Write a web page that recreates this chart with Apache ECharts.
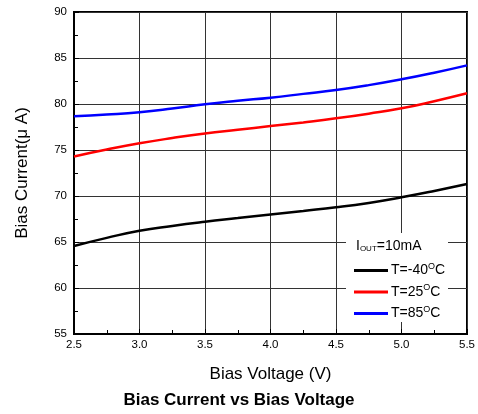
<!DOCTYPE html>
<html><head><meta charset="utf-8">
<script src="https://cdn.jsdelivr.net/npm/echarts@6/dist/echarts.min.js"></script>
<style>html,body{margin:0;padding:0;background:#fff}#c{width:478px;height:414px}</style>
</head><body><div id="c"></div>
<script>
const voltages = [2.5, 2.75, 3.0, 3.25, 3.5, 3.75, 4.0, 4.25, 4.5, 4.75, 5.0, 5.25, 5.5];
const tMinus40 = [64.57, 65.45, 66.23, 66.75, 67.2, 67.6, 68.0, 68.38, 68.77, 69.25, 69.86, 70.55, 71.3];
const t25 = [74.3, 75.05, 75.73, 76.3, 76.8, 77.2, 77.6, 78.0, 78.44, 78.95, 79.53, 80.3, 81.16];
const t85 = [78.66, 78.85, 79.1, 79.5, 79.97, 80.35, 80.69, 81.1, 81.52, 82.05, 82.68, 83.4, 84.2];
const seriesNames = ['T=-40', 'T=25', 'T=85'];
const seriesColors = ['#000000', '#ff0000', '#0000ff'];
const xTicks = ['2.5', '3.0', '3.5', '4.0', '4.5', '5.0', '5.5'];

const font = '"Liberation Sans", Arial, sans-serif';
const pair = (arr) => voltages.map((v, i) => [v, arr[i]]);
const allData = [tMinus40, t25, t85];

const chart = echarts.init(document.getElementById('c'), null, {renderer: 'canvas'});
chart.setOption({
  backgroundColor: '#fff',
  animation: false,
  textStyle: {fontFamily: font},
  title: {
    text: 'Bias Current vs Bias Voltage',
    left: 'center', top: 387,
    textStyle: {fontFamily: font, fontWeight: 'bold', fontSize: 17, color: '#000'}
  },
  grid: {left: 74, right: 11, top: 12, bottom: 80, show: true, borderColor: '#000', borderWidth: 2, backgroundColor: 'transparent'},
  xAxis: {
    type: 'value', min: 2.5, max: 5.5, interval: 0.5,
    name: 'Bias Voltage (V)', nameLocation: 'middle', nameGap: 32,
    nameTextStyle: {fontFamily: font, fontSize: 17, color: '#000'},
    axisLine: {show: true, lineStyle: {color: '#000', width: 2}},
    axisTick: {show: true, inside: true, length: 5, lineStyle: {color: '#000'}},
    minorTick: {show: true, splitNumber: 2, length: 4, lineStyle: {color: '#000'}},
    splitLine: {show: true, lineStyle: {color: '#333', width: 1}},
    axisLabel: {fontFamily: font, fontSize: 11.5, color: '#000', margin: 5, formatter: (v) => xTicks[Math.round((v - 2.5) / 0.5)]}
  },
  yAxis: {
    type: 'value', min: 55, max: 90, interval: 5,
    name: 'Bias Current(\u03bc A)', nameLocation: 'middle', nameGap: 43,
    nameTextStyle: {fontFamily: font, fontSize: 17, color: '#000'},
    axisLine: {show: true, lineStyle: {color: '#000', width: 2}},
    axisTick: {show: true, inside: true, length: 5, lineStyle: {color: '#000'}},
    minorTick: {show: true, splitNumber: 2, length: 4, lineStyle: {color: '#000'}},
    splitLine: {show: true, lineStyle: {color: '#333', width: 1}},
    axisLabel: {fontFamily: font, fontSize: 11.5, color: '#000', margin: 7}
  },
  legend: {
    orient: 'vertical', left: 354, top: 262, z: 10, padding: 0,
    itemWidth: 34, itemHeight: 3, itemGap: 6,
    icon: 'rect',
    data: seriesNames,
    formatter: (n) => '{a|' + n + '}{s|O}{a|C}',
    textStyle: {
      fontFamily: font, fontSize: 14, color: '#000', padding: [0,0,0,-2],
      rich: {
        a: {fontFamily: font, fontSize: 14, color: '#000'},
        s: {fontFamily: font, fontSize: 9, color: '#000', padding: [0,0,8,0]}
      }
    }
  },
  graphic: [
    {type: 'rect', z: 5, shape: {x: 346, y: 233, width: 102, height: 89}, style: {fill: '#fff'}},
    {type: 'text', z: 11, left: 356, top: 239,
      style: {
        text: '{a|I}{s|OUT}{a|=10mA}',
        rich: {
          a: {fontFamily: font, fontSize: 14, fill: '#000'},
          s: {fontFamily: font, fontSize: 8, fill: '#000', padding: [6,0,0,0]}
        }
      }
    }
  ],
  series: seriesNames.map((n, i) => ({
    name: n, type: 'line', smooth: true, symbol: 'none', z: 3,
    lineStyle: {color: seriesColors[i], width: 2.5},
    itemStyle: {color: seriesColors[i]},
    data: pair(allData[i])
  }))
});
</script></body></html>
